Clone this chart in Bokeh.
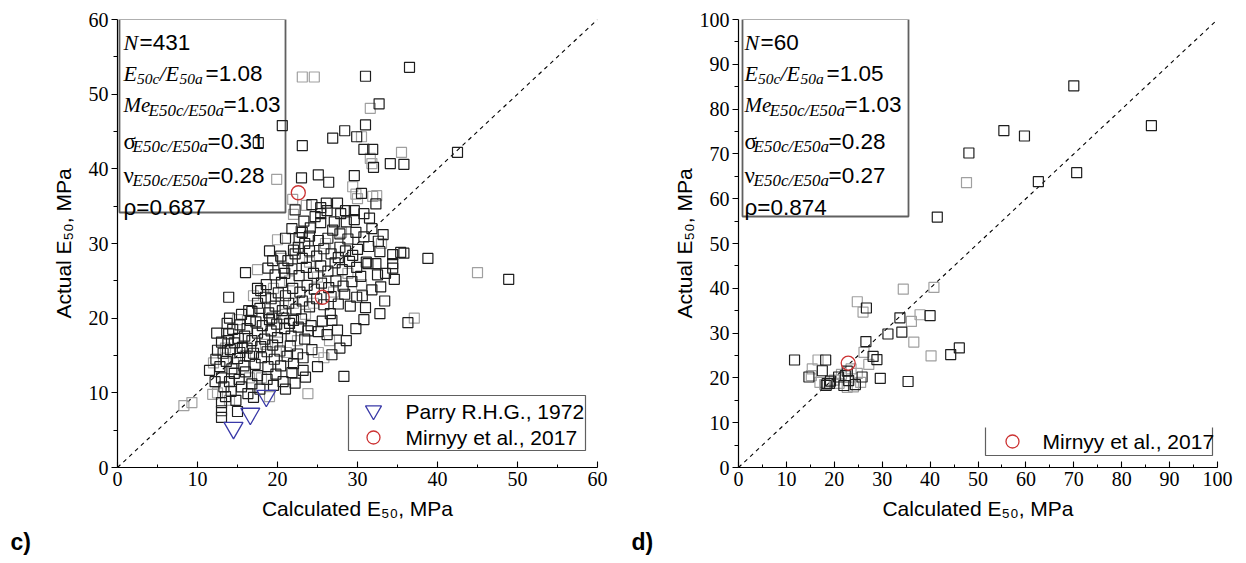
import math
from bokeh.plotting import figure
from bokeh.models import Range1d, FixedTicker, Title
from bokeh.layouts import row
from bokeh.embed import file_html
from bokeh.resources import INLINE
from bokeh.core.properties import value

# ------------------------------------------------------------------ data
# panel c) : calculated vs actual E50 (MPa)
left_black = [
    (31.0, 52.4), (36.5, 53.6), (32.7, 48.7), (31.0, 45.9), (28.4, 45.1), (26.9, 44.1), (29.9, 44.3),
    (20.6, 45.8), (17.6, 43.5), (23.1, 43.1), (30.8, 42.6), (31.9, 42.6), (42.5, 42.2), (32.0, 40.2),
    (34.1, 40.7), (35.8, 40.6), (23.0, 38.8), (25.1, 39.2), (26.4, 38.2), (29.6, 39.1), (30.5, 36.7),
    (26.1, 35.4), (27.5, 35.4), (25.4, 34.8), (28.5, 34.4), (29.6, 34.4), (30.8, 34.0), (25.4, 34.0),
    (25.4, 32.8), (27.1, 32.9), (28.6, 32.9), (21.8, 32.0), (24.1, 32.1), (27.8, 31.3), (29.8, 31.5),
    (30.8, 30.9), (21.0, 30.7), (25.1, 30.4), (26.3, 30.7), (32.6, 30.3), (22.0, 29.1), (27.8, 29.5),
    (30.0, 29.2), (35.4, 28.8), (34.4, 28.5), (38.8, 28.0), (31.1, 27.5), (32.3, 27.3), (34.4, 27.3),
    (34.4, 26.7), (48.9, 25.2), (36.3, 19.4), (28.3, 12.2), (16.0, 26.1), (13.9, 22.8), (11.5, 13.0),
    (13.0, 8.7), (13.0, 7.6), (13.0, 6.7), (15.0, 7.5), (17.0, 9.4), (23.2, 14.7), (23.2, 13.0),
    (23.5, 12.1), (21.8, 12.7), (20.7, 11.5), (19.5, 11.0), (26.2, 17.8), (25.1, 18.2), (23.8, 18.3),
    (22.0, 19.7), (30.6, 23.0), (31.0, 21.4), (30.8, 19.8), (31.3, 27.3), (29.1, 21.6), (26.6, 20.6),
    (26.8, 19.7), (23.1, 31.5), (19.4, 27.7), (18.8, 26.7), (20.8, 26.7), (17.5, 24.0), (17.9, 23.7),
    (18.5, 22.8), (16.4, 21.0), (17.5, 22.0), (16.6, 19.7), (13.7, 19.3), (13.9, 17.9), (12.5, 15.7),
    (15.1, 17.3), (15.6, 16.1),
    (13.5, 9.5), (14.2, 10.2), (14.8, 9.0), (15.5, 10.8), (16.3, 9.9), (17.8, 10.5), (18.7, 11.8),
    (14.0, 11.5), (15.2, 11.8), (16.8, 11.2), (13.3, 10.8), (19.8, 12.5), (17.5, 12.3), (16.0, 12.8),
    (14.6, 12.6), (13.0, 12.0), (12.2, 11.5), (21.0, 10.5), (22.2, 11.3),
    (12.8, 13.5), (13.6, 14.2), (14.3, 13.2), (15.0, 14.6), (15.8, 13.6), (16.5, 14.9), (17.2, 13.8),
    (18.0, 14.7), (18.8, 13.5), (19.6, 14.5), (20.4, 13.6), (21.2, 14.9), (22.0, 13.9), (13.2, 15.3),
    (14.1, 15.8), (15.3, 15.4), (16.2, 16.0), (17.0, 15.3), (17.9, 16.2), (18.7, 15.5), (19.4, 16.4),
    (20.3, 15.6), (21.6, 16.3), (22.5, 15.2), (12.3, 14.5), (24.3, 15.8), (25.0, 13.5), (26.8, 15.1),
    (13.0, 16.8), (13.8, 17.0), (14.6, 16.7), (15.9, 17.6), (16.8, 17.0), (17.5, 18.0), (18.4, 17.2),
    (19.2, 18.3), (20.0, 17.4), (20.9, 18.6), (21.7, 17.6), (22.6, 18.8), (23.4, 17.2), (14.4, 18.5),
    (15.3, 19.1), (16.2, 18.6), (17.3, 19.5), (18.1, 19.0), (19.0, 19.8), (19.9, 19.2), (20.8, 20.0),
    (21.5, 19.3), (23.0, 19.9), (24.2, 19.0), (25.6, 19.6), (27.5, 18.4), (28.6, 17.0), (27.8, 16.0),
    (12.4, 18.0), (14.0, 20.0), (29.8, 18.6),
    (15.5, 20.5), (16.8, 20.9), (17.8, 21.3), (18.9, 20.7), (19.7, 21.6), (20.6, 21.0), (21.4, 22.0),
    (22.3, 21.2), (23.1, 22.3), (24.0, 21.5), (24.9, 22.6), (25.8, 21.8), (26.7, 22.9), (27.6, 21.9),
    (28.4, 23.2), (19.2, 22.6), (20.1, 23.4), (21.0, 23.0), (21.9, 24.0), (22.8, 23.5), (23.7, 24.4),
    (24.6, 23.9), (25.5, 24.7), (26.4, 24.1), (27.3, 25.0), (28.2, 24.3), (29.3, 24.9), (29.9, 22.8),
    (18.6, 24.5), (20.5, 24.8), (31.8, 23.8), (32.9, 24.2), (33.4, 22.3), (32.8, 20.6), (34.6, 25.2),
    (30.4, 25.6), (19.3, 20.0),
    (19.7, 25.8), (20.9, 26.0), (21.8, 26.6), (22.7, 25.7), (23.6, 26.8), (24.5, 26.0), (25.4, 27.0),
    (26.3, 26.3), (27.2, 27.4), (28.1, 26.5), (29.0, 27.6), (29.9, 26.8), (20.4, 28.3), (21.3, 27.7),
    (22.2, 28.6), (23.1, 28.0), (24.0, 29.0), (24.9, 28.3), (25.8, 29.3), (26.7, 28.6), (27.6, 28.1),
    (28.5, 29.0), (29.4, 28.4), (31.4, 29.6), (32.8, 28.9), (33.5, 26.0), (32.5, 25.8), (35.8, 28.7),
    (23.4, 30.0), (22.6, 29.5), (19.0, 29.0),
    (22.7, 30.8), (24.0, 31.0), (26.9, 31.8), (28.8, 30.6), (31.8, 32.0), (29.6, 33.2), (23.3, 33.0),
    (24.7, 33.6), (26.2, 34.4), (27.9, 34.0), (31.5, 33.4), (32.3, 35.3), (22.2, 34.5), (24.3, 35.2),
    (33.2, 31.2),
]
left_gray = [
    (23.1, 52.3), (24.6, 52.3), (31.6, 48.1), (30.5, 44.3), (35.5, 42.2), (31.6, 41.4), (31.8, 40.7),
    (19.9, 38.6), (29.4, 37.6), (29.8, 36.6), (32.4, 36.4), (31.9, 36.3), (21.9, 35.9), (23.6, 35.1),
    (22.0, 33.9), (22.9, 31.6), (45.0, 26.1), (37.1, 20.0), (9.3, 8.7), (8.3, 8.3), (11.9, 9.8),
    (23.8, 9.9), (25.8, 14.7), (25.1, 15.4), (21.1, 15.4),
    (14.5, 14.0), (16.0, 15.0), (18.0, 12.0), (20.0, 16.8), (22.5, 17.0), (15.0, 19.8), (17.0, 23.0),
    (19.5, 24.0), (21.5, 25.0), (23.5, 20.5), (25.0, 25.5), (27.0, 23.5), (28.8, 26.0), (26.0, 30.0),
    (20.0, 30.5), (24.5, 22.0), (13.5, 16.0), (12.0, 14.0), (16.5, 12.0), (18.5, 16.5), (21.0, 20.5),
    (24.0, 27.5), (28.0, 31.5), (30.5, 24.5), (33.0, 30.0), (14.0, 9.0), (17.5, 26.5), (22.0, 22.0),
    (26.5, 17.0), (19.0, 9.5), (12.5, 10.0), (30.0, 36.0), (20.5, 28.0),
]
left_parry = [(14.5, 5.3), (16.6, 7.2), (18.6, 9.6)]
left_mirnyy = [(22.6, 36.8), (25.6, 22.8)]

# panel d)
right_black = [
    (70.0, 85.2), (55.4, 75.2), (59.7, 74.0), (86.2, 76.3), (48.1, 70.2), (62.6, 63.8), (70.6, 65.8),
    (41.5, 55.9), (26.7, 35.6), (33.7, 33.4), (40.0, 33.9), (31.2, 29.8), (34.1, 30.2), (26.6, 28.1),
    (28.1, 24.8), (28.9, 24.1), (44.3, 25.2), (46.1, 26.7), (11.7, 24.0), (18.2, 24.0), (17.5, 21.6),
    (14.7, 20.2), (20.9, 20.2), (22.3, 20.5), (23.0, 19.4), (22.0, 18.3), (24.4, 18.5), (18.5, 18.7),
    (19.2, 19.3), (18.3, 18.3), (25.8, 20.2), (29.6, 19.9), (35.4, 19.2), (22.7, 21.5), (19.0, 18.8),
]
right_gray = [
    (47.6, 63.6), (34.4, 39.8), (40.8, 40.2), (24.8, 37.0), (26.0, 34.7), (36.1, 32.6), (37.9, 34.1),
    (36.6, 28.0), (26.2, 25.7), (27.2, 23.0), (40.2, 24.9), (16.6, 24.0), (15.4, 22.0), (15.2, 20.5),
    (22.7, 17.9), (24.0, 18.0), (18.0, 18.5), (21.5, 20.8), (23.5, 22.0), (20.0, 19.5), (25.5, 19.0),
    (24.8, 21.0), (17.0, 19.0), (21.0, 18.8),
]
right_mirnyy = [(22.9, 23.3)]

# statistics printed in the boxes: N, E50c/E50a, Me, sigma, nu, rho
stats_left = ["431", "1.08", "1.03", "0.31", "0.28", "0.687"]
stats_right = ["60", "1.05", "1.03", "0.28", "0.27", "0.874"]

left_max = 60
right_max = 100
diag_left = [0, 60]
diag_right = [0, 100]

x_title = "Calculated E₅₀, MPa"
y_title = "Actual E₅₀, MPa"

# ------------------------------------------------------------------ style
SANS = "Liberation Sans"
SERIF = "Liberation Serif"
BLACK_SQ = "#1e1e1e"
GRAY_SQ = "#a0a0a0"
RED = "#cc3333"
BLUE = "#3a3aa8"
BOX = "#606060"

FRAME_TOP = 19
FRAME_BOTTOM = 467
FRAME_H = FRAME_BOTTOM - FRAME_TOP


def make_panel(xmax, frame_left, frame_w, left_border, right_border, ylab_standoff, letter):
    p = figure(frame_width=frame_w, frame_height=FRAME_H,
               x_range=Range1d(0, xmax), y_range=Range1d(0, xmax),
               output_backend="svg", toolbar_location=None,
               min_border_left=left_border, min_border_right=right_border,
               min_border_top=FRAME_TOP, min_border_bottom=92)
    p.outline_line_color = None
    p.grid.visible = False
    p.background_fill_color = "white"
    p.border_fill_color = "white"
    for ax in (p.xaxis, p.yaxis):
        ax.ticker = FixedTicker(ticks=list(range(0, xmax + 1, 10)),
                                minor_ticks=list(range(5, xmax, 10)))
        ax.axis_line_color = "black"
        ax.axis_line_width = 1.2
        ax.major_tick_line_color = "black"
        ax.minor_tick_line_color = "black"
        ax.major_tick_line_width = 1.1
        ax.minor_tick_line_width = 1.0
        ax.major_label_text_font = SERIF
        ax.major_label_text_font_size = "20px"
        ax.major_label_text_color = "black"
        ax.axis_label_text_font = SANS
        ax.axis_label_text_font_size = "21px"
        ax.axis_label_text_font_style = "normal"
        ax.axis_label_text_color = "black"
    p.xaxis.axis_label = x_title
    p.yaxis.axis_label = y_title
    p.xaxis.major_tick_in = 6
    p.xaxis.major_tick_out = 0
    p.xaxis.minor_tick_in = 3
    p.xaxis.minor_tick_out = 0
    p.xaxis.major_label_standoff = 4
    p.xaxis.axis_label_standoff = 8
    p.yaxis.major_tick_in = 0
    p.yaxis.major_tick_out = 6
    p.yaxis.minor_tick_in = 0
    p.yaxis.minor_tick_out = 4
    p.yaxis.major_label_standoff = 3
    p.yaxis.axis_label_standoff = ylab_standoff
    t = Title(text=letter, align="left", offset=-107,
              text_font=SANS, text_font_size="23px", text_font_style="bold",
              text_color="black", standoff=8)
    p.add_layout(t, "below")
    g = dict(fl=frame_left, sx=frame_w / xmax, sy=FRAME_H / xmax)
    return p, g


def dx(g, px):
    return (px - g["fl"]) / g["sx"]


def dy(g, py):
    return (FRAME_BOTTOM - py) / g["sy"]


def glyph_text(p, g, px, py, txt, font, size, style="normal", baseline="alphabetic"):
    p.text(x=[dx(g, px)], y=[dy(g, py)], text=[txt],
           text_font=value(font), text_font_size=value(size),
           text_font_style=style, text_color="black",
           text_align="left", text_baseline=baseline)


def stats_box(p, g, box, vals):
    x0, x1, ytop, ybot = box
    p.quad(left=[dx(g, x0)], right=[dx(g, x1)], top=[dy(g, ytop)], bottom=[dy(g, ybot)],
           fill_color="white", line_color=BOX, line_width=1.8)
    fl = g["fl"]
    N, ratio, Me, sigma, nu, rho = vals
    IT, SUB, SUBL, BIG = "22px", "15.5px", "17px", "22.5px"
    # line 1
    glyph_text(p, g, fl + 6, 42, "N", SERIF, IT, "italic")
    glyph_text(p, g, fl + 22, 42, "=" + N, SANS, BIG)
    # line 2
    b = 73
    glyph_text(p, g, fl + 6, b, "E", SERIF, IT, "italic")
    glyph_text(p, g, fl + 19.5, b + 5, "50c", SERIF, SUB, "italic")
    glyph_text(p, g, fl + 42, b, "/", SERIF, IT, "italic")
    glyph_text(p, g, fl + 48, b, "E", SERIF, IT, "italic")
    glyph_text(p, g, fl + 62, b + 5, "50a", SERIF, SUB, "italic")
    glyph_text(p, g, fl + 88, b, "=" + ratio, SANS, BIG)
    # line 3
    b = 104
    glyph_text(p, g, fl + 6, b, "Me", SERIF, "21px", "italic")
    glyph_text(p, g, fl + 31, b + 6, "E50c/E50a", SERIF, SUBL, "italic")
    glyph_text(p, g, fl + 106, b, "=" + Me, SANS, BIG)
    # line 4
    b = 141
    glyph_text(p, g, fl + 6, b, "σ", SERIF, "23px")
    glyph_text(p, g, fl + 15, b + 5, "E50c/E50a", SERIF, SUBL, "italic")
    glyph_text(p, g, fl + 90, b, "=" + sigma, SANS, BIG)
    # line 5
    b = 175
    glyph_text(p, g, fl + 6, b, "ν", SERIF, "23px")
    glyph_text(p, g, fl + 15, b + 5, "E50c/E50a", SERIF, SUBL, "italic")
    glyph_text(p, g, fl + 90, b, "=" + nu, SANS, BIG)
    # line 6
    glyph_text(p, g, fl + 6, 207, "ρ=" + rho, SANS, BIG)


def squares(p, pts, color):
    xs = [a for a, _ in pts]
    ys = [b for _, b in pts]
    p.scatter(xs, ys, marker="square", size=10, fill_color=None,
              line_color=color, line_width=1.2)


# ------------------------------------------------------------------ panel c)
pc, gc = make_panel(left_max, 117, 480, 117, 32, 11, "c)")
pc.line(diag_left, diag_left, line_color="black", line_width=1.1, line_dash="4 4")
stats_box(pc, gc, (119, 285, 18.6, 212), stats_left)
squares(pc, left_gray, GRAY_SQ)
squares(pc, left_black, BLACK_SQ)
pc.scatter([a for a, _ in left_parry], [b for _, b in left_parry], marker="inverted_triangle",
           size=19, fill_color=None, line_color=BLUE, line_width=1.3)
pc.scatter([a for a, _ in left_mirnyy], [b for _, b in left_mirnyy], marker="circle",
           size=14, fill_color=None, line_color=RED, line_width=1.3)
# legend
pc.quad(left=[dx(gc, 348)], right=[dx(gc, 585)], top=[dy(gc, 395)], bottom=[dy(gc, 450)],
        fill_color="white", line_color=BOX, line_width=1.2)
pc.scatter([dx(gc, 373)], [dy(gc, 410)], marker="inverted_triangle", size=16,
           fill_color=None, line_color=BLUE, line_width=1.3)
pc.scatter([dx(gc, 373)], [dy(gc, 437)], marker="circle", size=13,
           fill_color=None, line_color=RED, line_width=1.3)
glyph_text(pc, gc, 405, 411, "Parry R.H.G., 1972", SANS, "21px", baseline="middle")
glyph_text(pc, gc, 405, 437, "Mirnyy et al., 2017", SANS, "21px", baseline="middle")

# ------------------------------------------------------------------ panel d)
pd_, gd = make_panel(right_max, 738, 479, 109, 25, 1, "d)")
pd_.line(diag_right, diag_right, line_color="black", line_width=1.1, line_dash="4 4")
stats_box(pd_, gd, (742, 908, 18.6, 216), stats_right)
squares(pd_, right_gray, GRAY_SQ)
squares(pd_, right_black, BLACK_SQ)
pd_.scatter([a for a, _ in right_mirnyy], [b for _, b in right_mirnyy], marker="circle",
            size=14, fill_color=None, line_color=RED, line_width=1.3)
# legend (open on top)
pd_.quad(left=[dx(gd, 985)], right=[dx(gd, 1212)], top=[dy(gd, 427)], bottom=[dy(gd, 455)],
         fill_color="white", line_color=None)
pd_.line([dx(gd, 985), dx(gd, 985), dx(gd, 1212), dx(gd, 1212)],
         [dy(gd, 427), dy(gd, 455), dy(gd, 455), dy(gd, 427)],
         line_color=BOX, line_width=1.2)
pd_.scatter([dx(gd, 1012)], [dy(gd, 441)], marker="circle", size=13,
            fill_color=None, line_color=RED, line_width=1.3)
glyph_text(pd_, gd, 1042, 441, "Mirnyy et al., 2017", SANS, "21px", baseline="middle")

layout = row(pc, pd_)
open("out.html", "w").write(file_html(layout, INLINE))
